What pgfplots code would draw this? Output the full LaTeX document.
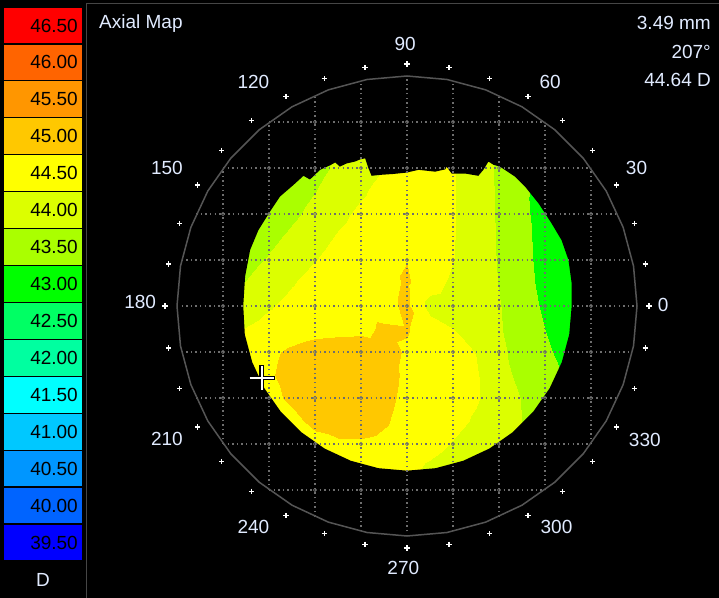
\documentclass[border=0pt]{standalone}
\usepackage{fontspec}
\setmainfont{Liberation Sans}
\usepackage{pgfplots}
\pgfplotsset{compat=1.18}

\definecolor{lab}{RGB}{225,235,255}
\definecolor{gridc}{RGB}{110,110,110}
\definecolor{ringc}{RGB}{85,85,85}
\definecolor{framec}{RGB}{70,70,70}
% scale colours, low to high
\definecolor{k0}{RGB}{0,0,255}
\definecolor{k1}{RGB}{0,100,255}
\definecolor{k2}{RGB}{0,150,255}
\definecolor{k3}{RGB}{0,200,255}
\definecolor{k4}{RGB}{0,255,255}
\definecolor{k5}{RGB}{0,255,160}
\definecolor{k6}{RGB}{0,255,100}
\definecolor{k7}{RGB}{0,255,0}
\definecolor{k8}{RGB}{170,255,0}
\definecolor{k9}{RGB}{220,255,0}
\definecolor{k10}{RGB}{255,255,0}
\definecolor{k11}{RGB}{255,200,0}
\definecolor{k12}{RGB}{255,150,0}
\definecolor{k13}{RGB}{255,100,0}
\definecolor{k14}{RGB}{255,0,0}

\newcommand{\tfont}{\fontsize{19bp}{22bp}\selectfont}
\newcommand{\legbox}[3]{%
  \filldraw[fill=#2, draw=black, line width=1.2bp] (3,{7+36.93*#1}) rectangle (83,{7+36.93*(#1+1)});
  \node[anchor=east, font=\tfont, text=black, inner sep=0pt] at (78,{7+36.93*(#1+0.5)}) {#3};}

\begin{document}
\begin{tikzpicture}
\fill[black] (0,0) rectangle (719bp,598bp);

% colour scale
\begin{axis}[at={(0,0)}, anchor=south west, scale only axis,
  width=87bp, height=598bp, xmin=0, xmax=87, ymin=0, ymax=598,
  y dir=reverse, hide axis, clip=false]
\legbox{0}{k14}{46.50}
\legbox{1}{k13}{46.00}
\legbox{2}{k12}{45.50}
\legbox{3}{k11}{45.00}
\legbox{4}{k10}{44.50}
\legbox{5}{k9}{44.00}
\legbox{6}{k8}{43.50}
\legbox{7}{k7}{43.00}
\legbox{8}{k6}{42.50}
\legbox{9}{k5}{42.00}
\legbox{10}{k4}{41.50}
\legbox{11}{k3}{41.00}
\legbox{12}{k2}{40.50}
\legbox{13}{k1}{40.00}
\legbox{14}{k0}{39.50}
\node[text=lab, font=\tfont, inner sep=0pt] at (43,580) {D};
\draw[framec, line width=1.5bp] (86.5,598) -- (86.5,3.5) -- (719,3.5);
\end{axis}

% map, 1 unit = 1 mm = 46 px
\begin{axis}[at={(87bp,0)}, anchor=south west, scale only axis,
  width=632bp, height=598bp,
  xmin=-6.9565, xmax=6.7826, ymin=-6.3478, ymax=6.6522,
  hide axis, clip=false,
  colormap={topo}{rgb255=(0,0,255) rgb255=(0,100,255) rgb255=(0,150,255)
    rgb255=(0,200,255) rgb255=(0,255,255) rgb255=(0,255,160) rgb255=(0,255,100)
    rgb255=(0,255,0) rgb255=(170,255,0) rgb255=(220,255,0) rgb255=(255,255,0)
    rgb255=(255,200,0) rgb255=(255,150,0) rgb255=(255,100,0) rgb255=(255,0,0)},
  colormap access=piecewise constant,
  point meta min=39.25, point meta max=46.75]

% axial power (D) on a 0.5 mm grid
\addplot[surf, shader=interp, mesh/cols=17, point meta=explicit] coordinates {
(-4,-4)[44.35] (-3.5,-4)[44.40] (-3,-4)[44.45] (-2.5,-4)[44.50] (-2,-4)[44.525] (-1.5,-4)[44.55] (-1,-4)[44.55] (-0.5,-4)[44.50] (0,-4)[44.35] (0.5,-4)[44.10] (1,-4)[43.95] (1.5,-4)[43.85] (2,-4)[43.75] (2.5,-4)[43.65] (3,-4)[43.575] (3.5,-4)[43.525] (4,-4)[43.50]

(-4,-3.5)[44.40] (-3.5,-3.5)[44.45] (-3,-3.5)[44.50] (-2.5,-3.5)[44.525] (-2,-3.5)[44.55] (-1.5,-3.5)[44.575] (-1,-3.5)[44.575] (-0.5,-3.5)[44.525] (0,-3.5)[44.40] (0.5,-3.5)[44.175] (1,-3.5)[44.00] (1.5,-3.5)[43.90] (2,-3.5)[43.80] (2.5,-3.5)[43.70] (3,-3.5)[43.60] (3.5,-3.5)[43.55] (4,-3.5)[43.50]

(-4,-3)[44.45] (-3.5,-3)[44.50] (-3,-3)[44.55] (-2.5,-3)[44.60] (-2,-3)[44.65] (-1.5,-3)[44.69] (-1,-3)[44.70] (-0.5,-3)[44.65] (0,-3)[44.55] (0.5,-3)[44.425] (1,-3)[44.225] (1.5,-3)[44.05] (2,-3)[43.90] (2.5,-3)[43.775] (3,-3)[43.65] (3.5,-3)[43.55] (4,-3)[43.50]

(-4,-2.5)[44.50] (-3.5,-2.5)[44.55] (-3,-2.5)[44.625] (-2.5,-2.5)[44.675] (-2,-2.5)[44.825] (-1.5,-2.5)[44.925] (-1,-2.5)[44.925] (-0.5,-2.5)[44.80] (0,-2.5)[44.60] (0.5,-2.5)[44.475] (1,-2.5)[44.375] (1.5,-2.5)[44.20] (2,-2.5)[43.975] (2.5,-2.5)[43.75] (3,-2.5)[43.55] (3.5,-2.5)[43.45] (4,-2.5)[43.40]

(-4,-2)[44.50] (-3.5,-2)[44.60] (-3,-2)[44.675] (-2.5,-2)[44.80] (-2,-2)[44.925] (-1.5,-2)[44.975] (-1,-2)[44.95] (-0.5,-2)[44.86] (0,-2)[44.65] (0.5,-2)[44.50] (1,-2)[44.425] (1.5,-2)[44.29] (2,-2)[44.025] (2.5,-2)[43.725] (3,-2)[43.50] (3.5,-2)[43.35] (4,-2)[43.25]

(-4,-1.5)[44.35] (-3.5,-1.5)[44.55] (-3,-1.5)[44.71] (-2.5,-1.5)[44.875] (-2,-1.5)[44.95] (-1.5,-1.5)[44.975] (-1,-1.5)[44.975] (-0.5,-1.5)[44.90] (0,-1.5)[44.675] (0.5,-1.5)[44.525] (1,-1.5)[44.425] (1.5,-1.5)[44.29] (2,-1.5)[43.95] (2.5,-1.5)[43.60] (3,-1.5)[43.40] (3.5,-1.5)[43.20] (4,-1.5)[43.10]

(-4,-1)[44.25] (-3.5,-1)[44.50] (-3,-1)[44.675] (-2.5,-1)[44.825] (-2,-1)[44.925] (-1.5,-1)[44.95] (-1,-1)[44.95] (-0.5,-1)[44.875] (0,-1)[44.71] (0.5,-1)[44.55] (1,-1)[44.40] (1.5,-1)[44.24] (2,-1)[43.85] (2.5,-1)[43.57] (3,-1)[43.325] (3.5,-1)[43.10] (4,-1)[43.00]

(-4,-0.5)[44.05] (-3.5,-0.5)[44.275] (-3,-0.5)[44.45] (-2.5,-0.5)[44.55] (-2,-0.5)[44.625] (-1.5,-0.5)[44.65] (-1,-0.5)[44.675] (-0.5,-0.5)[44.80] (0,-0.5)[44.775] (0.5,-0.5)[44.50] (1,-0.5)[44.26] (1.5,-0.5)[44.02] (2,-0.5)[43.79] (2.5,-0.5)[43.525] (3,-0.5)[43.25] (3.5,-0.5)[43.05] (4,-0.5)[42.95]

(-4,0)[43.75] (-3.5,0)[43.975] (-3,0)[44.205] (-2.5,0)[44.40] (-2,0)[44.55] (-1.5,0)[44.625] (-1,0)[44.65] (-0.5,0)[44.60] (0,0)[44.85] (0.5,0)[44.075] (1,0)[44.00] (1.5,0)[43.875] (2,0)[43.775] (2.5,0)[43.47] (3,0)[43.175] (3.5,0)[42.975] (4,0)[42.90]

(-4,0.5)[43.55] (-3.5,0.5)[43.77] (-3,0.5)[43.995] (-2.5,0.5)[44.22] (-2,0.5)[44.44] (-1.5,0.5)[44.55] (-1,0.5)[44.60] (-0.5,0.5)[44.60] (0,0.5)[44.81] (0.5,0.5)[44.45] (1,0.5)[44.15] (1.5,0.5)[43.96] (2,0.5)[43.735] (2.5,0.5)[43.41] (3,0.5)[43.125] (3.5,0.5)[42.95] (4,0.5)[42.85]

(-4,1)[43.35] (-3.5,1)[43.59] (-3,1)[43.805] (-2.5,1)[44.02] (-2,1)[44.235] (-1.5,1)[44.45] (-1,1)[44.55] (-0.5,1)[44.625] (0,1)[44.74] (0.5,1)[44.60] (1,1)[44.265] (1.5,1)[43.99] (2,1)[43.715] (2.5,1)[43.385] (3,1)[43.10] (3.5,1)[42.925] (4,1)[42.85]

(-4,1.5)[43.30] (-3.5,1.5)[43.35] (-3,1.5)[43.625] (-2.5,1.5)[43.85] (-2,1.5)[44.07] (-1.5,1.5)[44.295] (-1,1.5)[44.475] (-0.5,1.5)[44.575] (0,1.5)[44.65] (0.5,1.5)[44.575] (1,1.5)[44.275] (1.5,1.5)[43.99] (2,1.5)[43.705] (2.5,1.5)[43.37] (3,1.5)[43.09] (3.5,1.5)[42.90] (4,1.5)[42.85]

(-4,2)[43.30] (-3.5,2)[43.325] (-3,2)[43.425] (-2.5,2)[43.66] (-2,2)[43.895] (-1.5,2)[44.13] (-1,2)[44.35] (-0.5,2)[44.50] (0,2)[44.575] (0.5,2)[44.55] (1,2)[44.28] (1.5,2)[43.99] (2,2)[43.695] (2.5,2)[43.355] (3,2)[43.05] (3.5,2)[42.90] (4,2)[42.85]

(-4,2.5)[43.30] (-3.5,2.5)[43.30] (-3,2.5)[43.35] (-2.5,2.5)[43.52] (-2,2.5)[43.74] (-1.5,2.5)[43.965] (-1,2.5)[44.185] (-0.5,2.5)[44.41] (0,2.5)[44.50] (0.5,2.5)[44.50] (1,2.5)[44.28] (1.5,2.5)[43.99] (2,2.5)[43.685] (2.5,2.5)[43.335] (3,2.5)[43.075] (3.5,2.5)[42.90] (4,2.5)[42.85]

(-4,3)[43.30] (-3.5,3)[43.30] (-3,3)[43.325] (-2.5,3)[43.41] (-2,3)[43.615] (-1.5,3)[43.825] (-1,3)[44.035] (-0.5,3)[44.24] (0,3)[44.45] (0.5,3)[44.475] (1,3)[44.275] (1.5,3)[43.985] (2,3)[43.68] (2.5,3)[43.32] (3,3)[43.05] (3.5,3)[42.90] (4,3)[42.85]

(-4,3.5)[43.30] (-3.5,3.5)[43.30] (-3,3.5)[43.35] (-2.5,3.5)[43.45] (-2,3.5)[43.60] (-1.5,3.5)[43.725] (-1,3.5)[43.905] (-0.5,3.5)[44.095] (0,3.5)[44.29] (0.5,3.5)[44.40] (1,3.5)[44.275] (1.5,3.5)[43.985] (2,3.5)[43.68] (2.5,3.5)[43.32] (3,3.5)[43.05] (3.5,3.5)[42.90] (4,3.5)[42.85]

(-4,4)[43.30] (-3.5,4)[43.30] (-3,4)[43.35] (-2.5,4)[43.45] (-2,4)[43.55] (-1.5,4)[43.65] (-1,4)[43.85] (-0.5,4)[44.00] (0,4)[44.20] (0.5,4)[44.35] (1,4)[44.25] (1.5,4)[43.975] (2,4)[43.675] (2.5,4)[43.32] (3,4)[43.05] (3.5,4)[42.90] (4,4)[42.85]
};

% black outside the measured zone (keyhole: outer ccw, inner cw)
\addplot[fill=black, draw=none] coordinates {
(4.2,0.3) (4.2,4.2) (-4.2,4.2) (-4.2,-4.2) (4.2,-4.2) (4.2,0.3)
(3.58,0.49) (3.58,0) (3.526,-0.622) (3.364,-1.224) (3.100,-1.790) (2.742,-2.301)
(2.301,-2.742) (1.790,-3.100) (1.224,-3.364) (0.622,-3.526) (0,-3.58)
(-0.622,-3.526) (-1.224,-3.364) (-1.790,-3.100) (-2.301,-2.742) (-2.742,-2.301)
(-3.100,-1.790) (-3.364,-1.224) (-3.526,-0.622) (-3.56,0) (-3.52,0.64)
(-3.41,1.22) (-3.23,1.65) (-2.98,2.05) (-2.76,2.38) (-2.47,2.63) (-2.25,2.83)
(-2.11,2.75) (-1.89,2.96) (-1.67,3.06) (-1.56,3.12) (-1.46,3.03) (-1.31,3.10)
(-1.13,3.14) (-1.01,3.19) (-0.91,3.21) (-0.84,3.0) (-0.77,2.83) (-0.59,2.85)
(-0.3,2.87) (-0.01,2.90) (0.25,2.96) (0.61,2.92) (0.83,2.97) (0.86,3.03)
(0.97,2.88) (1.26,2.88) (1.55,2.83) (1.66,2.96) (1.77,3.14) (1.88,3.07)
(2.02,3.03) (2.35,2.81) (2.57,2.59) (2.86,2.23) (3.14,1.8) (3.36,1.43)
(3.51,1.0) (3.58,0.49) (4.2,0.3)
};

% dotted 1 mm grid inside the 10 mm circle
\addplot[gridc, line width=1.4bp, dash pattern=on 1.4bp off 3.2bp, unbounded coords=jump] coordinates {
(-4,-3) (-4,3) (nan,nan) (-3,-4) (-3,4) (nan,nan) (-2,-4.583) (-2,4.583) (nan,nan)
(-1,-4.899) (-1,4.899) (nan,nan) (0,-5) (0,5) (nan,nan) (1,-4.899) (1,4.899) (nan,nan)
(2,-4.583) (2,4.583) (nan,nan) (3,-4) (3,4) (nan,nan) (4,-3) (4,3)
};
\addplot[gridc, line width=1.4bp, dash pattern=on 1.4bp off 3.2bp, unbounded coords=jump] coordinates {
(-3,-4) (3,-4) (nan,nan) (-4,-3) (4,-3) (nan,nan) (-4.583,-2) (4.583,-2) (nan,nan)
(-4.899,-1) (4.899,-1) (nan,nan) (-5,0) (5,0) (nan,nan) (-4.899,1) (4.899,1) (nan,nan)
(-4.583,2) (4.583,2) (nan,nan) (-4,3) (4,3) (nan,nan) (-3,4) (3,4)
};
\addplot[only marks, mark=o, mark size=1.7bp, gridc, line width=0.7bp] coordinates {
(-2,-4) (-1,-4) (0,-4) (1,-4) (2,-4)
(-3,-3) (-2,-3) (-1,-3) (0,-3) (1,-3) (2,-3) (3,-3)
(-4,-2) (-3,-2) (-2,-2) (-1,-2) (0,-2) (1,-2) (2,-2) (3,-2) (4,-2)
(-4,-1) (-3,-1) (-2,-1) (-1,-1) (0,-1) (1,-1) (2,-1) (3,-1) (4,-1)
(-4,0) (-3,0) (-2,0) (-1,0) (0,0) (1,0) (2,0) (3,0) (4,0)
(-4,1) (-3,1) (-2,1) (-1,1) (0,1) (1,1) (2,1) (3,1) (4,1)
(-4,2) (-3,2) (-2,2) (-1,2) (0,2) (1,2) (2,2) (3,2) (4,2)
(-3,3) (-2,3) (-1,3) (0,3) (1,3) (2,3) (3,3)
(-2,4) (-1,4) (0,4) (1,4) (2,4)
};

% 10 mm ring
\addplot[ringc, line width=1.5bp, data cs=polar] coordinates {
(0,5) (10,5) (20,5) (30,5) (40,5) (50,5) (60,5) (70,5) (80,5) (90,5)
(100,5) (110,5) (120,5) (130,5) (140,5) (150,5) (160,5) (170,5) (180,5)
(190,5) (200,5) (210,5) (220,5) (230,5) (240,5) (250,5) (260,5) (270,5)
(280,5) (290,5) (300,5) (310,5) (320,5) (330,5) (340,5) (350,5) (360,5)
};

% 10 degree ticks
\addplot[only marks, mark=+, mark size=2.6bp, white, line width=1.1bp, data cs=polar] coordinates {
(0,5.26) (10,5.26) (20,5.26) (30,5.26) (40,5.26) (50,5.26) (60,5.26) (70,5.26) (80,5.26)
(90,5.26) (100,5.26) (110,5.26) (120,5.26) (130,5.26) (140,5.26) (150,5.26) (160,5.26)
(170,5.26) (180,5.26) (190,5.26) (200,5.26) (210,5.26) (220,5.26) (230,5.26) (240,5.26)
(250,5.26) (260,5.26) (270,5.26) (280,5.26) (290,5.26) (300,5.26) (310,5.26) (320,5.26)
(330,5.26) (340,5.26) (350,5.26)
};

% cursor
\addplot[only marks, mark=+, mark size=13bp, black, line width=4.5bp] coordinates {(-3.16,-1.57)};
\addplot[only marks, mark=+, mark size=12bp, white, line width=2bp] coordinates {(-3.16,-1.57)};

% angle labels
\node[text=lab, font=\tfont] at (5.57,0.02) {0};
\node[text=lab, font=\tfont] at (4.99,2.99) {30};
\node[text=lab, font=\tfont] at (3.11,4.88) {60};
\node[text=lab, font=\tfont] at (-0.04,5.70) {90};
\node[text=lab, font=\tfont] at (-3.34,4.88) {120};
\node[text=lab, font=\tfont] at (-5.22,2.99) {150};
\node[text=lab, font=\tfont] at (-5.80,0.09) {180};
\node[text=lab, font=\tfont] at (-5.22,-2.90) {210};
\node[text=lab, font=\tfont] at (-3.34,-4.80) {240};
\node[text=lab, font=\tfont] at (-0.08,-5.70) {270};
\node[text=lab, font=\tfont] at (3.25,-4.80) {300};
\node[text=lab, font=\tfont] at (5.17,-2.91) {330};

\node[text=lab, font=\tfont, anchor=base west, inner sep=0pt] at (-6.696,6.022) {Axial Map};
\node[text=lab, font=\tfont, anchor=base east, inner sep=0pt] at (6.609,6.0) {3.49 mm};
\node[text=lab, font=\tfont, anchor=base east, inner sep=0pt] at (6.609,5.391) {207°};
\node[text=lab, font=\tfont, anchor=base east, inner sep=0pt] at (6.609,4.761) {44.64 D};
\end{axis}
\pgfresetboundingbox
\useasboundingbox (0,0) rectangle (719bp,598bp);
\end{tikzpicture}
\end{document}
